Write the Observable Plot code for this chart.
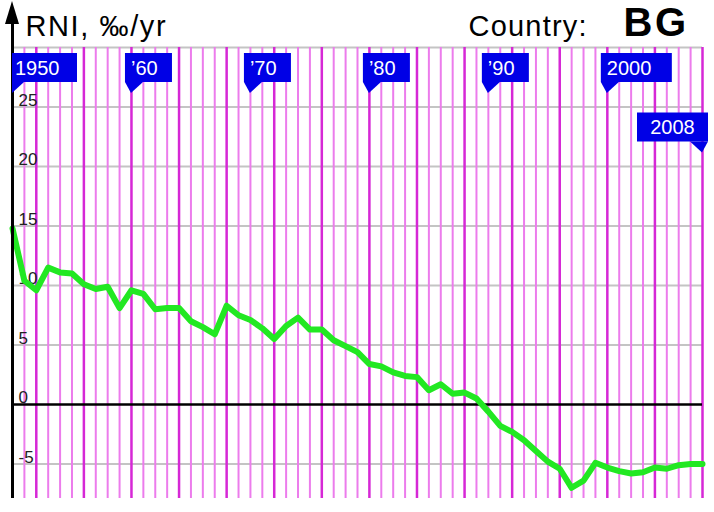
<!DOCTYPE html>
<html>
<head>
<meta charset="utf-8">
<script src="https://cdn.jsdelivr.net/npm/d3@7"></script>
<script src="https://cdn.jsdelivr.net/npm/@observablehq/plot@0.6"></script>
<style>
  html, body { margin: 0; padding: 0; background: #fff; }
</style>
</head>
<body>
<div id="chart"></div>
<script>
const years = [1950,1951,1952,1953,1954,1955,1956,1957,1958,1959,
               1960,1961,1962,1963,1964,1965,1966,1967,1968,1969,
               1970,1971,1972,1973,1974,1975,1976,1977,1978,1979,
               1980,1981,1982,1983,1984,1985,1986,1987,1988,1989,
               1990,1991,1992,1993,1994,1995,1996,1997,1998,1999,
               2000,2001,2002,2003,2004,2005,2006,2007,2008];
const rni = [14.8,10.4,9.6,11.5,11.1,11.0,10.1,9.7,9.9,8.1,
             9.6,9.3,8.0,8.1,8.1,7.0,6.5,5.9,8.3,7.5,
             7.1,6.4,5.5,6.6,7.3,6.3,6.3,5.4,4.9,4.4,
             3.4,3.2,2.7,2.4,2.3,1.2,1.7,0.9,1.0,0.5,
             -0.6,-1.8,-2.3,-3.0,-3.9,-4.8,-5.4,-7.0,-6.4,-4.9,
             -5.3,-5.6,-5.8,-5.7,-5.3,-5.4,-5.1,-5.0,-5.0];
const gridValues = [30,25,20,15,10,5,-5];
const tickValues = [25,20,15,10,5,0,-5];
const tickLabels = ["25","20","15","10","5","0","-5"];
const markerYears = [1950,1960,1970,1980,1990,2000,2008];
const markerLabels = ["1950","’60","’70","’80","’90","2000","2008"];
const yAxisLabel = "RNI, ‰/yr";
const countryLabel = "Country:";
const countryCode = "BG";

const yMin = -7.9, yMax = 30;
const leapYears = years.filter(d => d % 4 === 0);
const otherYears = years.filter(d => d % 4 !== 0);
const series = years.map((yr, i) => ({year: yr, value: rni[i]}));

function markersMark(index, scales, values, dimensions) {
  const x = scales.x, y = scales.y;
  const g = d3.create("svg:g");
  const x0 = x(years[0]);
  // y-axis arrowhead
  g.append("path")
    .attr("d", `M${x0},1L${x0 - 7},24L${x0 + 7},24Z`)
    .attr("fill", "black");
  markerYears.forEach((yr, i) => {
    const px = x(yr);
    const label = markerLabels[i];
    const long = label.length > 3;
    const last = i === markerYears.length - 1;
    const h = 29;
    let left, right, top, tri, tx, anchor;
    if (!last) {
      top = y(yMax) + 6;
      left = Math.max(px - 6, dimensions.marginLeft);
      right = px + (long ? 65 : 41);
      tri = `M${left},${top + h}L${px},${top + h + 11}L${px + 12},${top + h}Z`;
      tx = Math.max(px, left + 3);
      anchor = "start";
    } else {
      top = y(25) + 6;
      right = px + 6;
      left = px - 65;
      tri = `M${right},${top + h}L${px},${top + h + 11}L${px - 12},${top + h}Z`;
      tx = (left + right) / 2;
      anchor = "middle";
    }
    g.append("rect")
      .attr("x", left).attr("y", top)
      .attr("width", right - left).attr("height", h)
      .attr("fill", "#0000e6");
    g.append("path").attr("d", tri).attr("fill", "#0000e6");
    g.append("text")
      .attr("x", tx).attr("y", top + 21.5)
      .attr("text-anchor", anchor)
      .attr("fill", "white")
      .attr("font-size", 20)
      .attr("font-family", "Liberation Sans, Arial, sans-serif")
      .text(label);
  });
  return g.node();
}

const chart = Plot.plot({
  width: 714,
  height: 512,
  marginLeft: 12,
  marginRight: 12,
  marginTop: 47,
  marginBottom: 14,
  x: {domain: [1950, 2008], axis: null},
  y: {domain: [yMin, yMax], axis: null},
  style: {fontFamily: "Liberation Sans, Arial, sans-serif", background: "white", overflow: "visible"},
  marks: [
    Plot.ruleY(gridValues, {stroke: "#c4c4c4", strokeWidth: 2}),
    Plot.ruleX(otherYears, {y1: yMin, y2: yMax, stroke: "#ec7cec", strokeWidth: 2}),
    Plot.ruleX(leapYears, {y1: yMin, y2: yMax, stroke: "#d628d6", strokeWidth: 2.5}),
    Plot.ruleY([0], {stroke: "black", strokeWidth: 2.5}),
    Plot.text(tickValues, {x: 1950, y: d => d, text: (d, i) => tickLabels[i], dx: 6, dy: -1,
      lineAnchor: "bottom", textAnchor: "start", fontSize: 17, fill: "#222"}),
    Plot.line(series, {x: "year", y: "value", stroke: "#22e822", strokeWidth: 6,
      strokeLinejoin: "round", strokeLinecap: "round"}),
    Plot.ruleX([1950], {y1: yMin, y2: 33, stroke: "black", strokeWidth: 3}),
    markersMark,
    Plot.text([yAxisLabel], {frameAnchor: "top-left", dx: 13, dy: -12, lineAnchor: "bottom",
      textAnchor: "start", fontSize: 29, fill: "black"}),
    Plot.text([countryLabel], {frameAnchor: "top-left", dx: 456, dy: -12, lineAnchor: "bottom",
      textAnchor: "start", fontSize: 29, fill: "black"}),
    Plot.text([countryCode], {frameAnchor: "top-left", dx: 611, dy: -12, lineAnchor: "bottom",
      textAnchor: "start", fontSize: 40, fontWeight: "bold", fill: "black"})
  ]
});
// slightly widen the title lettering like the reference
d3.select(chart).selectAll("text")
  .filter(function () { return this.textContent === yAxisLabel; })
  .attr("letter-spacing", 1.6);
d3.select(chart).selectAll("text")
  .filter(function () { return this.textContent === countryLabel; })
  .attr("letter-spacing", 1.2);
d3.select(chart).selectAll("text")
  .filter(function () { return this.textContent === countryCode; })
  .attr("letter-spacing", 2.5);
document.getElementById("chart").appendChild(chart);
</script>
</body>
</html>
